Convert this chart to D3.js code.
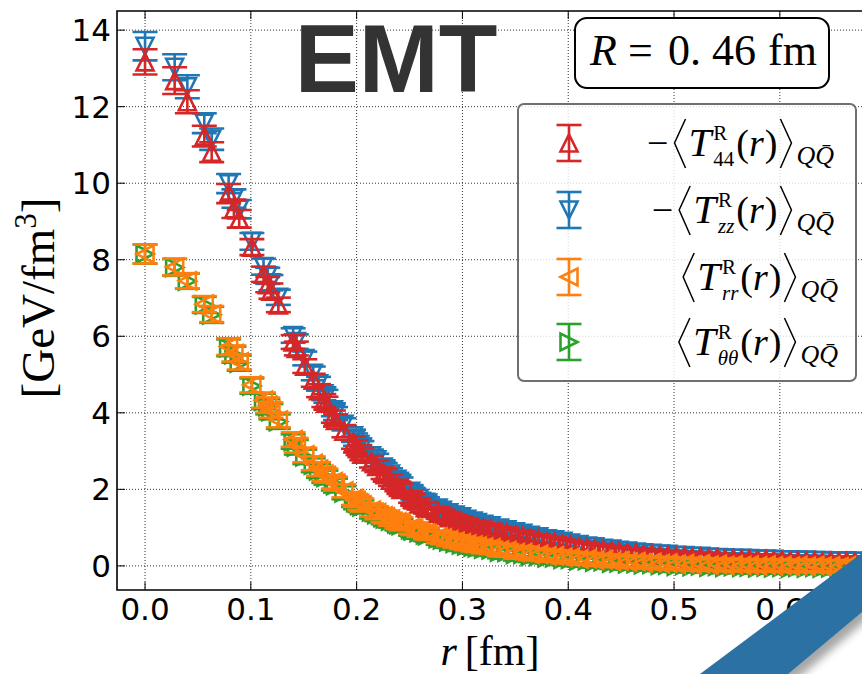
<!DOCTYPE html>
<html>
<head>
<meta charset="utf-8">
<script src="https://cdn.jsdelivr.net/npm/d3@7"></script>
<style>
  body { margin: 0; background: #fff; }
</style>
</head>
<body>
<div id="chart"></div>
<script>
const w = 862;
const h = 674;

// r in fm (lattice distances)
const rValues = [
  0.000, 0.028, 0.040, 0.056, 0.063, 0.079, 0.084, 0.089, 0.101, 0.112,
  0.116, 0.119, 0.126, 0.140, 0.143, 0.151, 0.159, 0.164, 0.169, 0.171,
  0.178, 0.180, 0.188, 0.197, 0.199, 0.203, 0.205, 0.214, 0.219, 0.225,
  0.227, 0.232, 0.238, 0.240, 0.242, 0.251, 0.253, 0.254, 0.259, 0.265,
  0.267, 0.277, 0.281, 0.287, 0.293, 0.299, 0.304, 0.310, 0.314, 0.320,
  0.327, 0.335, 0.342, 0.350, 0.357, 0.364, 0.372, 0.380, 0.387, 0.395,
  0.402, 0.410, 0.418, 0.425, 0.433, 0.441, 0.448, 0.456, 0.464, 0.471,
  0.479, 0.487, 0.494, 0.502, 0.510, 0.517, 0.525, 0.533, 0.541, 0.548,
  0.556, 0.564, 0.571, 0.579, 0.587, 0.594, 0.602, 0.610, 0.617, 0.625,
  0.633, 0.640, 0.648, 0.656, 0.663, 0.671, 0.679, 0.686, 0.694
];

// -<T44>
const t44 = [
  13.17, 12.68, 12.13, 11.23, 10.81, 9.73, 9.33, 9.07, 8.33, 7.62,
  7.35, 7.18, 6.82, 5.85, 5.68, 5.22, 4.85, 4.58, 4.32, 4.25,
  3.90, 3.80, 3.52, 3.22, 3.12, 3.00, 2.92, 2.72, 2.60, 2.42,
  2.38, 2.24, 2.10, 2.05, 2.00, 1.80, 1.74, 1.72, 1.62, 1.52,
  1.50, 1.38, 1.32, 1.26, 1.20, 1.15, 1.10, 1.05, 1.02, 0.98,
  0.96, 0.89, 0.86, 0.79, 0.78, 0.71, 0.69, 0.63, 0.62, 0.56,
  0.54, 0.49, 0.47, 0.43, 0.42, 0.38, 0.37, 0.33, 0.33, 0.29,
  0.30, 0.26, 0.27, 0.24, 0.24, 0.21, 0.22, 0.19, 0.20, 0.17,
  0.18, 0.16, 0.17, 0.14, 0.16, 0.13, 0.14, 0.12, 0.13, 0.11,
  0.12, 0.10, 0.11, 0.09, 0.11, 0.08, 0.10, 0.08, 0.09
];
const err44 = [
  0.33, 0.35, 0.30, 0.27, 0.26, 0.25, 0.24, 0.23, 0.21, 0.20,
  0.20, 0.20, 0.19, 0.18, 0.18, 0.18, 0.17, 0.17, 0.17, 0.17,
  0.16, 0.16, 0.16, 0.16, 0.16, 0.16, 0.16, 0.15, 0.15, 0.15,
  0.15, 0.15, 0.15, 0.15, 0.15, 0.15, 0.15, 0.15, 0.15, 0.15,
  0.15, 0.15, 0.15, 0.15, 0.14, 0.14, 0.14, 0.14, 0.14, 0.14,
  0.14, 0.14, 0.14, 0.14, 0.14, 0.13, 0.13, 0.13, 0.13, 0.13,
  0.13, 0.13, 0.13, 0.13, 0.13, 0.13, 0.13, 0.13, 0.13, 0.13,
  0.12, 0.12, 0.12, 0.12, 0.12, 0.12, 0.12, 0.12, 0.12, 0.12,
  0.12, 0.12, 0.12, 0.12, 0.12, 0.12, 0.12, 0.12, 0.12, 0.12,
  0.12, 0.12, 0.12, 0.12, 0.12, 0.12, 0.12, 0.12, 0.12
];

// -<Tzz>
const tzz = [
  13.58, 13.03, 12.52, 11.57, 11.15, 9.99, 9.60, 9.32, 8.48, 7.82,
  7.58, 7.40, 7.02, 6.02, 5.86, 5.42, 5.03, 4.76, 4.50, 4.43,
  4.08, 3.98, 3.70, 3.40, 3.30, 3.17, 3.10, 2.88, 2.77, 2.58,
  2.54, 2.40, 2.26, 2.21, 2.16, 1.95, 1.89, 1.87, 1.76, 1.66,
  1.64, 1.51, 1.45, 1.39, 1.33, 1.28, 1.22, 1.17, 1.13, 1.09,
  1.05, 0.99, 0.94, 0.89, 0.85, 0.80, 0.76, 0.71, 0.68, 0.64,
  0.60, 0.56, 0.52, 0.50, 0.46, 0.44, 0.41, 0.39, 0.36, 0.34,
  0.33, 0.31, 0.30, 0.28, 0.27, 0.25, 0.25, 0.23, 0.22, 0.21,
  0.20, 0.20, 0.19, 0.18, 0.18, 0.17, 0.16, 0.16, 0.15, 0.15,
  0.14, 0.14, 0.13, 0.13, 0.13, 0.12, 0.12, 0.12, 0.11
];
const errzz = [
  0.37, 0.34, 0.30, 0.26, 0.28, 0.25, 0.24, 0.24, 0.22, 0.21,
  0.21, 0.20, 0.20, 0.19, 0.19, 0.18, 0.18, 0.18, 0.17, 0.17,
  0.17, 0.17, 0.16, 0.16, 0.16, 0.16, 0.16, 0.16, 0.16, 0.16,
  0.15, 0.15, 0.15, 0.15, 0.15, 0.15, 0.15, 0.15, 0.15, 0.15,
  0.15, 0.15, 0.15, 0.15, 0.15, 0.15, 0.14, 0.14, 0.14, 0.14,
  0.14, 0.14, 0.14, 0.14, 0.14, 0.14, 0.13, 0.13, 0.13, 0.13,
  0.13, 0.13, 0.13, 0.13, 0.13, 0.13, 0.13, 0.13, 0.13, 0.13,
  0.12, 0.12, 0.12, 0.12, 0.12, 0.12, 0.12, 0.12, 0.12, 0.12,
  0.12, 0.12, 0.12, 0.12, 0.12, 0.12, 0.12, 0.12, 0.12, 0.12,
  0.12, 0.12, 0.12, 0.12, 0.12, 0.12, 0.12, 0.12, 0.12
];

// <Trr>
const trr = [
  8.15, 7.81, 7.45, 6.84, 6.58, 5.73, 5.55, 5.33, 4.73, 4.33,
  4.20, 4.07, 3.81, 3.30, 3.15, 2.90, 2.68, 2.53, 2.40, 2.36,
  2.20, 2.15, 1.96, 1.76, 1.71, 1.63, 1.59, 1.46, 1.39, 1.31,
  1.28, 1.22, 1.15, 1.13, 1.10, 1.00, 0.98, 0.97, 0.92, 0.86,
  0.84, 0.76, 0.73, 0.68, 0.64, 0.60, 0.57, 0.54, 0.52, 0.49,
  0.47, 0.41, 0.40, 0.35, 0.35, 0.30, 0.30, 0.26, 0.26, 0.22,
  0.22, 0.18, 0.19, 0.15, 0.16, 0.12, 0.13, 0.10, 0.11, 0.08,
  0.09, 0.06, 0.07, 0.04, 0.06, 0.03, 0.05, 0.02, 0.04, 0.01,
  0.03, 0.01, 0.02, 0.00, 0.02, 0.00, 0.01, -0.01, 0.01, -0.01,
  0.01, -0.01, 0.00, -0.02, 0.00, -0.02, 0.00, -0.02, -0.01
];
const errrr = [
  0.25, 0.22, 0.20, 0.21, 0.21, 0.22, 0.21, 0.20, 0.20, 0.20,
  0.20, 0.20, 0.19, 0.19, 0.19, 0.19, 0.18, 0.18, 0.18, 0.18,
  0.18, 0.18, 0.17, 0.17, 0.17, 0.17, 0.17, 0.17, 0.17, 0.17,
  0.17, 0.17, 0.17, 0.17, 0.17, 0.16, 0.16, 0.16, 0.16, 0.16,
  0.16, 0.16, 0.16, 0.16, 0.16, 0.16, 0.16, 0.16, 0.16, 0.16,
  0.16, 0.16, 0.16, 0.16, 0.16, 0.15, 0.15, 0.15, 0.15, 0.15,
  0.15, 0.15, 0.15, 0.15, 0.15, 0.15, 0.15, 0.15, 0.15, 0.15,
  0.15, 0.15, 0.15, 0.15, 0.15, 0.15, 0.15, 0.15, 0.15, 0.15,
  0.15, 0.15, 0.15, 0.15, 0.15, 0.15, 0.15, 0.15, 0.15, 0.15,
  0.15, 0.15, 0.15, 0.15, 0.15, 0.15, 0.15, 0.15, 0.15
];

// <Ttheta theta>
const tthth = [
  8.15, 7.80, 7.44, 6.82, 6.56, 5.70, 5.52, 5.30, 4.70, 4.30,
  4.16, 4.03, 3.77, 3.25, 3.10, 2.85, 2.63, 2.48, 2.35, 2.31,
  2.15, 2.10, 1.91, 1.71, 1.66, 1.58, 1.54, 1.41, 1.34, 1.26,
  1.23, 1.17, 1.10, 1.08, 1.05, 0.95, 0.93, 0.92, 0.87, 0.81,
  0.79, 0.71, 0.68, 0.63, 0.59, 0.55, 0.52, 0.49, 0.47, 0.44,
  0.42, 0.36, 0.35, 0.30, 0.30, 0.25, 0.25, 0.21, 0.21, 0.17,
  0.17, 0.13, 0.14, 0.10, 0.11, 0.07, 0.08, 0.05, 0.06, 0.03,
  0.04, 0.01, 0.02, -0.01, 0.01, -0.02, 0.00, -0.03, -0.01, -0.04,
  -0.02, -0.04, -0.03, -0.05, -0.03, -0.05, -0.04, -0.06, -0.04, -0.06,
  -0.04, -0.06, -0.05, -0.07, -0.05, -0.07, -0.05, -0.07, -0.06
];
const errthth = [
  0.25, 0.22, 0.20, 0.21, 0.21, 0.22, 0.21, 0.20, 0.20, 0.20,
  0.20, 0.20, 0.19, 0.19, 0.19, 0.19, 0.18, 0.18, 0.18, 0.18,
  0.18, 0.18, 0.17, 0.17, 0.17, 0.17, 0.17, 0.17, 0.17, 0.17,
  0.17, 0.17, 0.17, 0.17, 0.17, 0.16, 0.16, 0.16, 0.16, 0.16,
  0.16, 0.16, 0.16, 0.16, 0.16, 0.16, 0.16, 0.16, 0.16, 0.16,
  0.16, 0.16, 0.16, 0.16, 0.16, 0.15, 0.15, 0.15, 0.15, 0.15,
  0.15, 0.15, 0.15, 0.15, 0.15, 0.15, 0.15, 0.15, 0.15, 0.15,
  0.15, 0.15, 0.15, 0.15, 0.15, 0.15, 0.15, 0.15, 0.15, 0.15,
  0.15, 0.15, 0.15, 0.15, 0.15, 0.15, 0.15, 0.15, 0.15, 0.15,
  0.15, 0.15, 0.15, 0.15, 0.15, 0.15, 0.15, 0.15, 0.15
];

const xTicks = [0.0, 0.1, 0.2, 0.3, 0.4, 0.5, 0.6];
const yTicks = [0, 2, 4, 6, 8, 10, 12, 14];

// plot box
const padLeft = 117, padTop = 11, padBottom = 590;

const svg = d3.select('#chart')
  .append('svg')
  .attr('width', w)
  .attr('height', h)
  .style('background', '#fff');

const xScale = d3.scaleLinear()
  .domain([-0.0265, 0.7])
  .range([padLeft, padLeft + 0.7265 * 1058]);

const yScale = d3.scaleLinear()
  .domain([-0.63, 14.5])
  .range([padBottom, padTop]);

const padRight = xScale.range()[1];

svg.append('defs').append('clipPath')
  .attr('id', 'plotclip')
  .append('rect')
  .attr('x', padLeft).attr('y', padTop)
  .attr('width', padRight - padLeft).attr('height', padBottom - padTop);

// grid
const grid = svg.append('g')
  .attr('stroke', '#333')
  .attr('stroke-width', 1)
  .attr('stroke-dasharray', '1,2');
grid.selectAll('line.gx').data(xTicks).enter().append('line')
  .attr('x1', d => xScale(d)).attr('x2', d => xScale(d))
  .attr('y1', padTop).attr('y2', padBottom);
grid.selectAll('line.gy').data(yTicks).enter().append('line')
  .attr('x1', padLeft).attr('x2', padRight)
  .attr('y1', d => yScale(d)).attr('y2', d => yScale(d));

// series, drawn in stacking order
const series = [
  {name: 'zz', values: tzz, errors: errzz, color: '#1f77b4', rot: 180},
  {name: '44', values: t44, errors: err44, color: '#d62728', rot: 0},
  {name: 'thth', values: tthth, errors: errthth, color: '#2ca02c', rot: 90},
  {name: 'rr', values: trr, errors: errrr, color: '#ff7f0e', rot: -90}
];

// matplotlib-like triangle, centred on its box
function triangle(s) {
  return 'M0,' + (-s) + 'L' + s + ',' + s + 'L' + (-s) + ',' + s + 'Z';
}
const markerPath = triangle(8.5);
const cap = 12.5;

const plot = svg.append('g').attr('clip-path', 'url(#plotclip)');

series.forEach(function(s) {
  const pts = rValues.map(function(r, i) {
    return {r: r, v: s.values[i], e: s.errors[i]};
  });
  const g = plot.append('g')
    .attr('stroke', s.color)
    .attr('stroke-width', 2.6)
    .attr('fill', 'none');
  pts.forEach(function(d) {
    const cx = xScale(d.r);
    const y1 = yScale(d.v + d.e), y2 = yScale(d.v - d.e);
    g.append('line').attr('x1', cx).attr('x2', cx).attr('y1', y1).attr('y2', y2);
    g.append('line').attr('x1', cx - cap).attr('x2', cx + cap).attr('y1', y1).attr('y2', y1);
    g.append('line').attr('x1', cx - cap).attr('x2', cx + cap).attr('y1', y2).attr('y2', y2);
    g.append('path')
      .attr('d', markerPath)
      .attr('transform', 'translate(' + cx + ',' + yScale(d.v) + ') rotate(' + s.rot + ')');
  });
});

// ticks (inward)
const ticks = svg.append('g').attr('stroke', '#000').attr('stroke-width', 1);
xTicks.forEach(function(t) {
  ticks.append('line').attr('x1', xScale(t)).attr('x2', xScale(t)).attr('y1', padBottom).attr('y2', padBottom - 8);
  ticks.append('line').attr('x1', xScale(t)).attr('x2', xScale(t)).attr('y1', padTop).attr('y2', padTop + 8);
});
yTicks.forEach(function(t) {
  ticks.append('line').attr('x1', padLeft).attr('x2', padLeft + 8).attr('y1', yScale(t)).attr('y2', yScale(t));
});

// spines
svg.append('path')
  .attr('d', 'M' + padRight + ',' + padTop + 'H' + padLeft + 'V' + padBottom + 'H' + padRight)
  .attr('fill', 'none')
  .attr('stroke', '#000')
  .attr('stroke-width', 1.6);

// tick labels
svg.selectAll('text.xt').data(xTicks).enter().append('text')
  .attr('x', d => xScale(d)).attr('y', 620)
  .attr('text-anchor', 'middle')
  .attr('font-family', 'DejaVu Sans')
  .attr('font-size', 31)
  .text(d => d.toFixed(1));
svg.selectAll('text.yt').data(yTicks).enter().append('text')
  .attr('x', 111).attr('y', d => yScale(d) + 11)
  .attr('text-anchor', 'end')
  .attr('font-family', 'DejaVu Sans')
  .attr('font-size', 31)
  .text(d => d);

// axis labels
const xl = svg.append('text')
  .attr('x', 490).attr('y', 665)
  .attr('text-anchor', 'middle')
  .attr('font-family', 'Liberation Serif')
  .attr('font-size', 42);
xl.append('tspan').attr('font-style', 'italic').text('r');
xl.append('tspan').attr('dx', 8).text('[fm]');

const yl = svg.append('text')
  .attr('transform', 'translate(54,298) rotate(-90)')
  .attr('text-anchor', 'middle')
  .attr('font-family', 'Liberation Serif')
  .attr('font-size', 47);
yl.append('tspan').text('[GeV/fm');
yl.append('tspan').attr('font-size', 31).attr('dy', -18).text('3');
yl.append('tspan').attr('dy', 18).text(']');

// title
svg.append('text')
  .attr('x', 396).attr('y', 92)
  .attr('text-anchor', 'middle')
  .attr('font-family', 'Liberation Sans')
  .attr('font-weight', 'bold')
  .attr('font-size', 96)
  .attr('fill', '#333')
  .text('EMT');

// R box
svg.append('rect')
  .attr('x', 575).attr('y', 18).attr('width', 254).attr('height', 70)
  .attr('rx', 12)
  .attr('fill', '#fff').attr('stroke', '#000').attr('stroke-width', 2);
const rb = svg.append('text')
  .attr('y', 65)
  .attr('font-family', 'Liberation Serif')
  .attr('font-size', 44);
rb.append('tspan').attr('x', 590).attr('font-style', 'italic').text('R');
rb.append('tspan').attr('x', 628).text('=');
rb.append('tspan').attr('x', 668).text('0.');
rb.append('tspan').attr('x', 712).text('46');
rb.append('tspan').attr('x', 768).text('fm');

// legend
svg.append('rect')
  .attr('x', 518).attr('y', 104).attr('width', 338).attr('height', 277)
  .attr('rx', 6)
  .attr('fill', '#fff').attr('fill-opacity', 0.8)
  .attr('stroke', '#6f6f6f').attr('stroke-width', 2);

const legendItems = [
  {color: '#d62728', rot: 0, minus: true, sub: '44', subItalic: false, y: 143, endX: 834},
  {color: '#1f77b4', rot: 180, minus: true, sub: 'zz', subItalic: true, y: 210, endX: 834},
  {color: '#ff7f0e', rot: -90, minus: false, sub: 'rr', subItalic: true, y: 277, endX: 838},
  {color: '#2ca02c', rot: 90, minus: false, sub: 'θθ', subItalic: true, y: 342, endX: 838}
];

legendItems.forEach(function(d) {
  const g = svg.append('g')
    .attr('stroke', d.color).attr('stroke-width', 2.6).attr('fill', 'none');
  const cx = 569;
  g.append('line').attr('x1', cx).attr('x2', cx).attr('y1', d.y - 18).attr('y2', d.y + 18);
  g.append('line').attr('x1', cx - cap).attr('x2', cx + cap).attr('y1', d.y - 18).attr('y2', d.y - 18);
  g.append('line').attr('x1', cx - cap).attr('x2', cx + cap).attr('y1', d.y + 18).attr('y2', d.y + 18);
  g.append('path').attr('d', markerPath)
    .attr('transform', 'translate(' + cx + ',' + d.y + ') rotate(' + d.rot + ')');

  // label pieces laid out left to right, then right-aligned
  const lg = svg.append('g');
  const base = d.y + 13;
  let x = 0;
  function put(str, size, italic, dy) {
    const t = lg.append('text')
      .attr('x', x).attr('y', base + (dy || 0))
      .attr('font-family', 'Liberation Serif')
      .attr('font-size', size)
      .attr('font-style', italic ? 'italic' : 'normal')
      .text(str);
    return t.node().getComputedTextLength();
  }
  function bracket(open) {
    const x0 = open ? x + 12 : x + 1, x1 = open ? x + 1 : x + 12;
    lg.append('path')
      .attr('d', 'M' + x0 + ',' + (d.y - 24) + 'L' + x1 + ',' + d.y + 'L' + x0 + ',' + (d.y + 25))
      .attr('fill', 'none').attr('stroke', '#000').attr('stroke-width', 1.5);
  }
  if (d.minus) { x += put('\u2212', 38, false) + 5; }
  bracket(true); x += 15;
  x += put('T', 41, true) + 2;
  const wSup = put('R', 21, false, -16);
  const wSub = put(d.sub, 21, d.subItalic, 10);
  x += Math.max(wSup, wSub) + 2;
  x += put('(', 38, false);
  x += put('r', 38, true) + 1;
  x += put(')', 38, false) + 2;
  bracket(false); x += 17;
  x += put('QQ\u0304', 26, true, 8);
  lg.attr('transform', 'translate(' + (d.endX - x) + ',0)');
});

// corner ribbon
const filt = svg.select('defs').append('filter').attr('id', 'blur')
  .attr('x', '-20%').attr('y', '-20%').attr('width', '140%').attr('height', '140%');
filt.append('feGaussianBlur').attr('stdDeviation', 4);
svg.append('polygon')
  .attr('points', '706,680 868,559 868,619 796,680')
  .attr('fill', '#000').attr('opacity', 0.35)
  .attr('filter', 'url(#blur)');
svg.append('polygon')
  .attr('points', '700,674 862,553 862,612 788,674')
  .attr('fill', '#2b71a3');
</script>
</body>
</html>
